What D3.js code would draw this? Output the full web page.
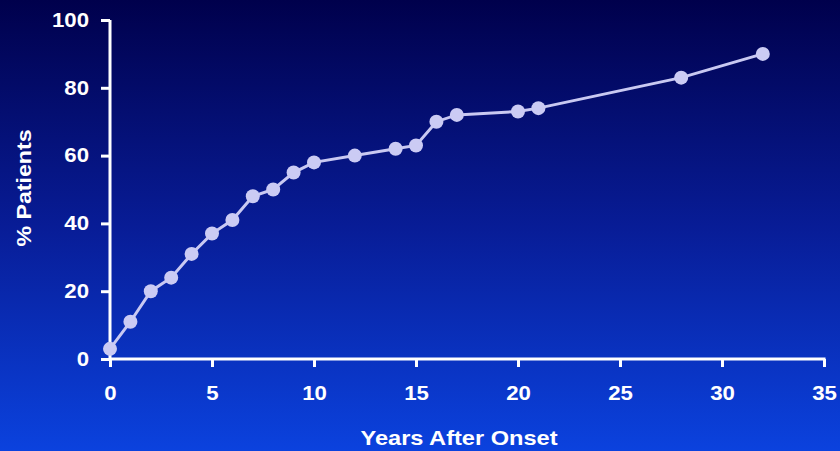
<!DOCTYPE html>
<html><head><meta charset="utf-8">
<script src="https://cdn.jsdelivr.net/npm/d3@7/dist/d3.min.js"></script>
<style>html,body{margin:0;padding:0;overflow:hidden;}svg{display:block;}</style>
</head><body>
<svg id="chart" width="840" height="451"></svg>
<script>
const years = [0, 1, 2, 3, 4, 5, 6, 7, 8, 9, 10, 12, 14, 15, 16, 17, 20, 21, 28, 32];
const percentPatients = [3, 11, 20, 24, 31, 37, 41, 48, 50, 55, 58, 60, 62, 63, 70, 72, 73, 74, 83, 90];
const xTicks = [0, 5, 10, 15, 20, 25, 30, 35];
const yTicks = [0, 20, 40, 60, 80, 100];
const xLabel = "Years After Onset";
const yLabel = "% Patients";

const W = 840, H = 451;
const svg = d3.select("#chart");
const defs = svg.append("defs");
const grad = defs.append("linearGradient").attr("id","bg").attr("x1",0).attr("y1",0).attr("x2",0).attr("y2",1);
grad.append("stop").attr("offset","0%").attr("stop-color","#00004c");
grad.append("stop").attr("offset","50%").attr("stop-color","#081c96");
grad.append("stop").attr("offset","100%").attr("stop-color","#0b42de");
svg.append("rect").attr("width",W).attr("height",H).attr("fill","url(#bg)");

const x = d3.scaleLinear().domain([0,35]).range([110,824]);
const y = d3.scaleLinear().domain([0,100]).range([359,20]);

const font = "'Liberation Sans', Arial, Helvetica, sans-serif";
const SX = 1.14;

const xAxis = svg.append("g").attr("transform",`translate(0,${y(0)})`)
  .call(d3.axisBottom(x).tickValues(xTicks).tickSize(8).tickSizeOuter(0).tickPadding(20));
const yAxis = svg.append("g").attr("transform",`translate(${x(0)},0)`)
  .call(d3.axisLeft(y).tickValues(yTicks).tickSize(9).tickSizeOuter(0).tickPadding(12));

[xAxis, yAxis].forEach(g => {
  g.select(".domain").attr("stroke","#ffffff").attr("stroke-width",3);
  g.selectAll(".tick line").attr("stroke","#ffffff").attr("stroke-width",3);
  g.selectAll(".tick text").attr("fill","#ffffff").attr("font-family",font)
    .attr("font-weight","bold").attr("font-size","19.5px");
});
xAxis.selectAll(".tick text").attr("y",0).attr("transform",`translate(0,27.5) scale(${SX},1)`);
yAxis.selectAll(".tick text").attr("x",0).attr("transform",`translate(-21,0) scale(${SX},1)`);

xAxis.select(".domain").attr("d", `M${x(0)-1},0H${x(35)+1.5}`);
yAxis.select(".domain").attr("d", `M0,${y(100)}V${y(0)+1.5}`);

const pts = years.map((d,i)=>[d, percentPatients[i]]);
svg.append("path").datum(pts)
  .attr("fill","none").attr("stroke","#c9c9f2").attr("stroke-width",3)
  .attr("d", d3.line().x(d=>x(d[0])).y(d=>y(d[1])));
svg.selectAll("circle.pt").data(pts).enter().append("circle")
  .attr("class","pt").attr("cx",d=>x(d[0])).attr("cy",d=>y(d[1])).attr("r",7)
  .attr("fill","#cbcbf4");

svg.append("text").attr("transform",`translate(459,445) scale(1.18,1)`).attr("text-anchor","middle")
  .attr("fill","#ffffff").attr("font-family",font).attr("font-weight","bold").attr("font-size","20px")
  .text(xLabel);
svg.append("text").attr("transform",`translate(31,188) rotate(-90) scale(1.16,1)`).attr("text-anchor","middle")
  .attr("fill","#ffffff").attr("font-family",font).attr("font-weight","bold").attr("font-size","20px")
  .text(yLabel);
</script>
</body></html>
